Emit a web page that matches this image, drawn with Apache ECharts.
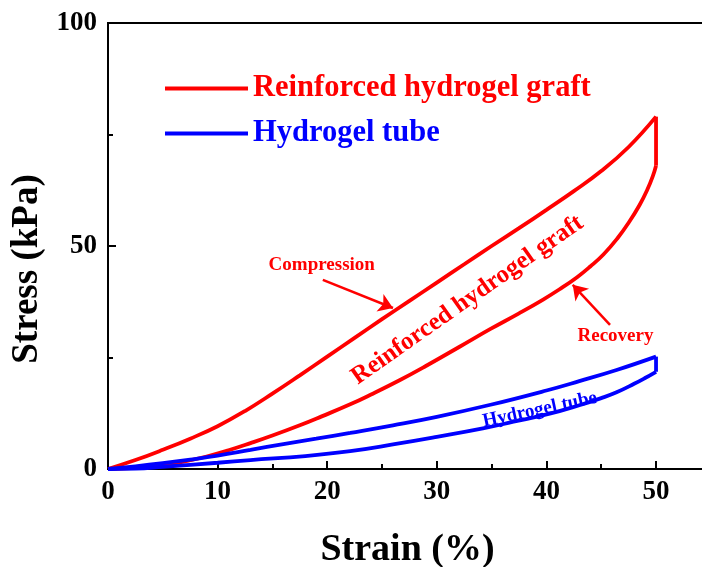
<!DOCTYPE html>
<html><head><meta charset="utf-8">
<script src="https://cdn.jsdelivr.net/npm/echarts@6/dist/echarts.min.js"></script>
<style>html,body{margin:0;padding:0;background:#fff}#c{width:702px;height:567px}</style>
</head><body><div id="c"></div>
<script>
// ---- data (strain %, stress kPa) ----
const graftCompression = [[0,0],[2.5,2],[5,4.3],[7.5,6.8],[10,9.6],[12.5,13],[15,16.9],[17.5,21],[20,25.2],[22.5,29.4],[25,33.6],[27.5,37.7],[30,41.8],[32.5,45.9],[35,50],[37.5,54],[40,58.1],[42.5,62.3],[45,66.8],[47.5,72.2],[50,79]];
const graftRecovery = [[50,68],[49.7,65.6],[49.2,62.6],[48.5,59.2],[47.5,55.2],[46.5,51.8],[45.2,48.1],[44,45.4],[42.8,43],[41.2,40.3],[39.7,38],[37.5,34.9],[34.9,31.4],[32,27.3],[29,23.1],[26.6,19.9],[24,16.7],[22.1,14.5],[19.5,11.8],[17.5,9.8],[15,7.5],[13,5.8],[11,4.2],[9,2.8],[7,1.7],[5,0.8],[3,0.3],[0,0]];
const tubeCompression = [[0,0],[2.5,0.6],[5,1.3],[7.5,2.1],[10,3],[13,4.3],[16,5.6],[19,6.8],[22.1,8.1],[26,9.8],[30,11.7],[34.9,14.4],[40,17.6],[43,19.7],[46.4,22.2],[50,25.2]];
const tubeRecovery = [[50,21.8],[49,20.4],[48,19.1],[46.4,17.2],[45,15.9],[43,14.3],[40.3,12.4],[37,10.6],[34.2,9.1],[30,7.2],[26,5.5],[22.1,4],[18,2.9],[13,2],[10,1.4],[5,0.5],[2.5,0.1],[0,0]];
const seriesNames = ['Reinforced hydrogel graft','Hydrogel tube'];
const xTicks = [0,10,20,30,40,50];
const xMinorTicks = [5,15,25,35,45];
const yTicks = [0,50,100];
const yMinorTicks = [25,75];
const arrowLines = [[[19.6,42.4],[26.0,36.1]],[[45.8,32.3],[42.4,41.3]]];
const annotationTexts = ['Compression','Recovery','Reinforced hydrogel graft','Hydrogel tube'];
const annotationAt = [[19.5,45.7],[46.3,29.8],[32.8,37.9],[39.4,13.3]];

const FONT = "'Liberation Serif','Times New Roman',serif";
const RED = '#ff0000', BLUE = '#0000ff';
const chart = echarts.init(document.getElementById('c'));

function lineSeries(name, data, color, smooth){
  return {type:'line', name:name, data:data, showSymbol:false, smooth:smooth, animation:false,
    lineStyle:{color:color, width:3.8}, itemStyle:{color:color}, z:3};
}
const series = [
  lineSeries(seriesNames[0], graftCompression, RED, 0.45),
  lineSeries(seriesNames[0], [graftCompression[graftCompression.length-1], graftRecovery[0]], RED, false),
  lineSeries(seriesNames[0], graftRecovery, RED, 0.45),
  lineSeries(seriesNames[1], tubeCompression, BLUE, 0.45),
  lineSeries(seriesNames[1], [tubeCompression[tubeCompression.length-1], tubeRecovery[0]], BLUE, false),
  lineSeries(seriesNames[1], tubeRecovery, BLUE, 0.45)
];
series[0].markLine = {silent:true, animation:false, symbol:['none','arrow'], symbolSize:14,
  lineStyle:{color:RED, width:2.5, type:'solid'}, label:{show:false},
  data: arrowLines.map(l => [{coord:l[0]},{coord:l[1]}])};

const labelStyle = {color:'#000', fontFamily:FONT, fontWeight:'bold', fontSize:27};
chart.setOption({
  animation:false,
  grid:{left:108, top:23, right:-5, bottom:98, containLabel:false, outerBoundsMode:'none',
    show:true, borderColor:'#000', borderWidth:2, backgroundColor:'transparent'},
  legend:{orient:'vertical', left:165, top:73, padding:0, itemGap:14, itemWidth:83, itemHeight:4, icon:'rect',
    textStyle:{fontFamily:FONT, fontWeight:'bold', fontSize:30.5, lineHeight:30},
    data:[{name:seriesNames[0], textStyle:{color:RED}},{name:seriesNames[1], textStyle:{color:BLUE}}]},
  xAxis:[
    {type:'value', min:0, max:54.65, name:'Strain (%)', nameLocation:'middle', nameGap:62,
     nameTextStyle:{color:'#000', fontFamily:FONT, fontWeight:'bold', fontSize:38},
     axisLine:{show:true, onZero:false, lineStyle:{color:'#000', width:2}},
     axisTick:{show:true, inside:true, length:8, customValues:xTicks, lineStyle:{color:'#000', width:2}},
     axisLabel:Object.assign({customValues:xTicks, margin:10}, labelStyle),
     splitLine:{show:false}},
    {type:'value', min:0, max:54.65, position:'bottom',
     axisLine:{show:false}, axisLabel:{show:false}, splitLine:{show:false},
     axisTick:{show:true, inside:true, length:5, customValues:xMinorTicks, lineStyle:{color:'#000', width:2}}}
  ],
  yAxis:[
    {type:'value', min:0, max:100, name:'Stress (kPa)', nameLocation:'middle', nameGap:60,
     nameTextStyle:{color:'#000', fontFamily:FONT, fontWeight:'bold', fontSize:37, padding:[0,46,0,0]},
     axisLine:{show:true, onZero:false, lineStyle:{color:'#000', width:2}},
     axisTick:{show:true, inside:true, length:8, customValues:yTicks, lineStyle:{color:'#000', width:2}},
     axisLabel:Object.assign({customValues:yTicks, margin:11}, labelStyle),
     splitLine:{show:false}},
    {type:'value', min:0, max:100, position:'left',
     axisLine:{show:false}, axisLabel:{show:false}, splitLine:{show:false},
     axisTick:{show:true, inside:true, length:5, customValues:yMinorTicks, lineStyle:{color:'#000', width:2}}}
  ],
  series: series
});

const annotationStyle = [
  {rot:0, size:19, color:RED},
  {rot:0, size:19, color:RED},
  {rot:35, size:25, color:RED},
  {rot:12, size:19, color:BLUE}
];
chart.setOption({graphic: annotationTexts.map((t,i) => {
  const p = chart.convertToPixel({xAxisIndex:0, yAxisIndex:0}, annotationAt[i]);
  const s = annotationStyle[i];
  return {type:'text', x:p[0], y:p[1], rotation:s.rot*Math.PI/180, z:10,
    style:{text:t, fill:s.color, font:'bold '+s.size+'px '+FONT, align:'center', verticalAlign:'middle', textAlign:'center', textVerticalAlign:'middle'}};
})});
</script>
</body></html>
